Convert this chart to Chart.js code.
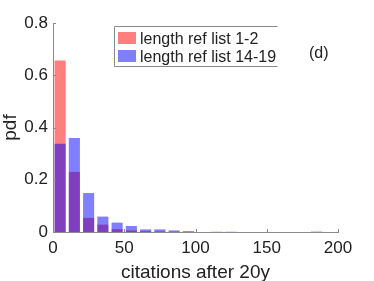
<!DOCTYPE html>
<html>
<head>
<meta charset="utf-8">
<script src="https://cdn.jsdelivr.net/npm/chart.js@4"></script>
<style>
  body { margin: 0; background: #fff; }
</style>
</head>
<body>
<canvas id="grafico" width="374" height="281"></canvas>
<script>
// bin centres (bins of width 10 from 0 to 200)
const binCenters = [5, 15, 25, 35, 45, 55, 65, 75, 85, 95, 105, 115, 125, 135, 145, 155, 165, 175, 185, 195];
const pdfShort = [0.656, 0.23, 0.054, 0.028, 0.011, 0.006, 0.003, 0.002, 0.001, 0.001, 0, 0, 0, 0, 0, 0, 0, 0, 0.002, 0];
const pdfLong = [0.338, 0.36, 0.149, 0.059, 0.036, 0.023, 0.01, 0.01, 0.006, 0.003, 0, 0.001, 0.001, 0, 0, 0, 0, 0, 0, 0];
const seriesNames = ['length ref list 1-2', 'length ref list 14-19'];
const xTicks = [0, 50, 100, 150, 200];
const yTicks = [0, 0.2, 0.4, 0.6, 0.8];

const axisColor = '#8a8a8a';
const textColor = '#222';

const toPoints = vals => binCenters.map((x, i) => ({ x: x, y: vals[i] }));

// small inward ticks like matlab + legend box inside plot + panel label
const extras = {
    id: 'extras',
    afterDraw(chart) {
        const ctx = chart.ctx;
        const xs = chart.scales.x, ys = chart.scales.y;
        const area = chart.chartArea;
        ctx.save();
        ctx.strokeStyle = axisColor;
        ctx.lineWidth = 1;
        ctx.beginPath();
        xTicks.forEach(v => {
            const px = Math.round(xs.getPixelForValue(v)) + 0.5;
            ctx.moveTo(px, area.bottom);
            ctx.lineTo(px, area.bottom - 3);
        });
        yTicks.forEach(v => {
            const py = Math.round(ys.getPixelForValue(v)) + 0.5;
            ctx.moveTo(area.left, py);
            ctx.lineTo(area.left + 3, py);
        });
        ctx.stroke();

        // legend
        const bx = 114.5, by = 26.5, bw = 163, bh = 40;
        ctx.fillStyle = '#fff';
        ctx.fillRect(bx, by, bw, bh);
        ctx.beginPath();
        ctx.moveTo(bx + bw, by);
        ctx.lineTo(bx, by);
        ctx.lineTo(bx, by + bh);
        ctx.lineTo(bx + bw, by + bh);
        ctx.stroke();
        ctx.font = '16px "Liberation Sans", Arial, sans-serif';
        ctx.textBaseline = 'alphabetic';
        ctx.textAlign = 'left';
        chart.data.datasets.forEach((ds, i) => {
            const sy = 32 + i * 18;
            ctx.fillStyle = ds.backgroundColor;
            ctx.fillRect(118, sy, 18, 12);
            ctx.fillStyle = textColor;
            ctx.fillText(ds.label, 140, sy + 12);
        });
        ctx.fillText('(d)', 309, 58);
        ctx.restore();
    }
};

new Chart(document.getElementById('grafico').getContext('2d'), {
    type: 'bar',
    data: {
        datasets: [
            {
                label: seriesNames[0],
                data: toPoints(pdfShort),
                backgroundColor: 'rgba(255, 0, 0, 0.5)',
                borderWidth: 0,
                grouped: false,
                order: 1,
                barPercentage: 1,
                categoryPercentage: 0.78
            },
            {
                label: seriesNames[1],
                data: toPoints(pdfLong),
                backgroundColor: 'rgba(0, 0, 255, 0.5)',
                borderWidth: 0,
                grouped: false,
                order: 0,
                barPercentage: 1,
                categoryPercentage: 0.78
            }
        ]
    },
    options: {
        responsive: false,
        animation: false,
        layout: { padding: { left: 0, right: 36, top: 23, bottom: 0 } },
        plugins: {
            legend: { display: false },
            tooltip: { enabled: false }
        },
        scales: {
            x: {
                type: 'linear',
                min: 0,
                max: 200,
                offset: false,
                afterFit: s => { s.height = 49; },
                afterBuildTicks: s => { s.ticks = xTicks.map(v => ({ value: v })); },
                grid: { display: false, drawTicks: false },
                border: { display: true, color: axisColor },
                ticks: {
                    color: textColor,
                    padding: 6,
                    maxRotation: 0,
                    font: { family: '"Liberation Sans", Arial, sans-serif', size: 17 }
                },
                title: {
                    display: true,
                    text: 'citations after 20y',
                    color: textColor,
                    padding: { top: 0, bottom: -1 },
                    font: { family: '"Liberation Sans", Arial, sans-serif', size: 19, lineHeight: 1 }
                }
            },
            y: {
                min: 0,
                max: 0.8,
                afterFit: s => { s.width = 53; },
                afterBuildTicks: s => { s.ticks = yTicks.map(v => ({ value: v })); },
                grid: { display: false, drawTicks: false },
                border: { display: true, color: axisColor },
                ticks: {
                    color: textColor,
                    padding: 5,
                    font: { family: '"Liberation Sans", Arial, sans-serif', size: 17 }
                },
                title: {
                    display: true,
                    text: 'pdf',
                    color: textColor,
                    padding: { top: 1.5, bottom: 0 },
                    font: { family: '"Liberation Sans", Arial, sans-serif', size: 19, lineHeight: 1 }
                }
            }
        }
    },
    plugins: [extras]
});
</script>
</body>
</html>
